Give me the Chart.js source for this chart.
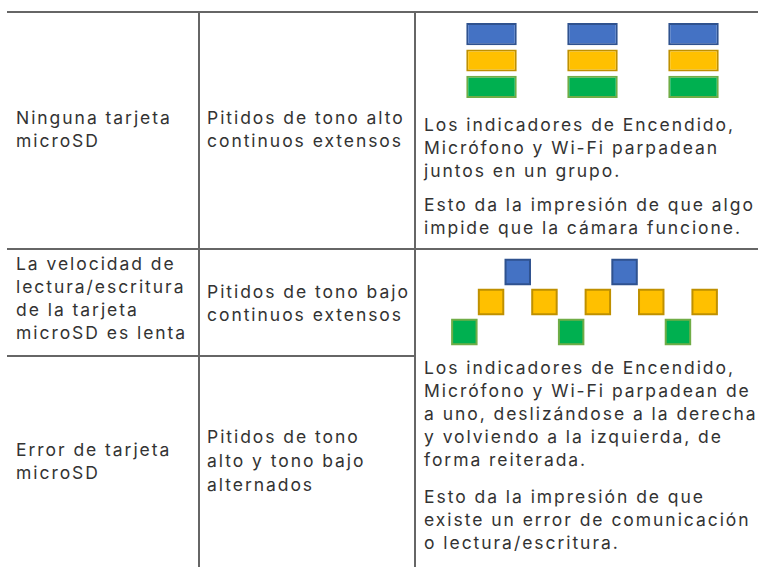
<!DOCTYPE html>
<html><head><meta charset="utf-8">
<script src="https://cdn.jsdelivr.net/npm/chart.js@4/dist/chart.umd.min.js"></script>
<style>
html,body{margin:0;padding:0;background:#fff;}
#page{position:relative;width:758px;height:567px;overflow:hidden;font-family:"Inter",sans-serif;font-size:17.5px;color:#333;}
.t{position:absolute;line-height:23px;white-space:nowrap;}
.h{position:absolute;height:2px;background:#666;}
.v{position:absolute;width:2px;background:#666;}
canvas{position:absolute;}
</style></head>
<body><div id="page">
<div class="h" style="left:7px;top:11px;width:751px"></div>
<div class="h" style="left:7px;top:248px;width:751px"></div>
<div class="h" style="left:7px;top:355px;width:409px"></div>
<div class="v" style="left:198px;top:11px;height:556px"></div>
<div class="v" style="left:414px;top:11px;height:556px"></div>

<div class="t" style="left:16px;top:106px">Ninguna tarjeta<br>microSD</div>
<div class="t" style="left:207px;top:106px">Pitidos de tono alto<br>continuos extensos</div>
<div class="t" id="ref" style="left:424px;top:113px">Los indicadores de Encendido,<br>Micrófono y Wi-Fi parpadean<br>juntos en un grupo.</div>
<div class="t" style="left:424px;top:193px">Esto da la impresión de que algo<br>impide que la cámara funcione.</div>

<div class="t" style="left:16px;top:252px">La velocidad de<br>lectura/escritura<br>de la tarjeta<br>microSD es lenta</div>
<div class="t" style="left:207px;top:280px">Pitidos de tono bajo<br>continuos extensos</div>

<div class="t" style="left:16px;top:438px">Error de tarjeta<br>microSD</div>
<div class="t" style="left:207px;top:425px;line-height:24px">Pitidos de tono<br>alto y tono bajo<br>alternados</div>
<div class="t" style="left:424px;top:356px">Los indicadores de Encendido,<br>Micrófono y Wi-Fi parpadean de<br>a uno, deslizándose a la derecha<br>y volviendo a la izquierda, de<br>forma reiterada.</div>
<div class="t" style="left:424px;top:485px">Esto da la impresión de que<br>existe un error de comunicación<br>o lectura/escritura.</div>

<canvas id="c1" width="303" height="79" style="left:441px;top:21px;width:303px;height:79px"></canvas>
<canvas id="c2" width="267" height="90" style="left:451px;top:257px;width:267px;height:90px"></canvas>
</div>
<script>
// LEDs (top to bottom): Encendido, Micrófono, Wi-Fi
const leds = ['Encendido', 'Micrófono', 'Wi-Fi'];
const ledLevels = [2, 1, 0];
const ledFill = ['#4472C4', '#FFC000', '#00B050'];
const ledBorder = ['#2F528F', '#BF9000', '#70AD47'];

// Pattern 1: all three LEDs blink together, three blinks
const groupBlinks = ['1', '2', '3'];
const groupOn = [[1, 1, 1], [1, 1, 1], [1, 1, 1]]; // per blink: Encendido, Micrófono, Wi-Fi

// Pattern 2: one LED at a time, sliding right and back left
const sweepSteps = [0, 1, 2, 3, 4, 5, 6, 7, 8, 9];
const sweepLed = ['Wi-Fi', 'Micrófono', 'Encendido', 'Micrófono', 'Wi-Fi', 'Micrófono', 'Encendido', 'Micrófono', 'Wi-Fi', 'Micrófono'];

// match the wide spacing of the original typeface
(function () {
  const c = document.createElement('canvas').getContext('2d');
  c.font = '17.5px Inter';
  const s = 'Los indicadores de Encendido,';
  const w = c.measureText(s).width;
  document.getElementById('page').style.letterSpacing = ((309 - w) / (s.length - 1)).toFixed(2) + 'px';
})();

const base = {
  responsive: false, animation: false, devicePixelRatio: 1,
  layout: { padding: 0, autoPadding: false },
  plugins: { legend: { display: false }, tooltip: { enabled: false } },
  events: []
};

new Chart(document.getElementById('c1'), {
  type: 'bar',
  data: {
    labels: groupBlinks,
    datasets: leds.map((name, i) => ({
      label: name,
      data: groupOn.map(g => g[i] ? [ledLevels[i] - 0.42, ledLevels[i] + 0.42] : null),
      backgroundColor: ledFill[i], borderColor: ledBorder[i], borderWidth: 2,
      borderSkipped: false, grouped: false,
      barPercentage: 0.5, categoryPercentage: 1
    }))
  },
  options: Object.assign({}, base, {
    scales: {
      x: { display: false },
      y: { display: false, min: -0.5, max: 2.5 }
    }
  })
});

new Chart(document.getElementById('c2'), {
  type: 'scatter',
  data: {
    datasets: leds.map((name, i) => ({
      label: name,
      data: sweepSteps.filter(s => sweepLed[s] === name).map(s => ({ x: s, y: ledLevels[i] })),
      pointStyle: 'rect', pointRadius: 17.3,
      backgroundColor: ledFill[i], borderColor: ledBorder[i], borderWidth: 2
    }))
  },
  options: Object.assign({}, base, {
    scales: {
      x: { display: false, min: -0.5, max: 9.5 },
      y: { display: false, min: -0.5, max: 2.5 }
    }
  })
});
</script>
</body></html>
